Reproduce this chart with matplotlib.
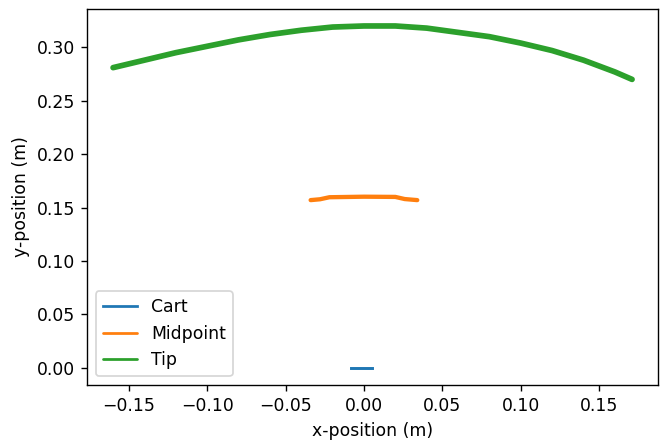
import numpy as np
import matplotlib
matplotlib.use("Agg")
import matplotlib.pyplot as plt

# traced positions (m)
cart_x = [-0.008, -0.004, 0.000, 0.005]
cart_y = [0.000, 0.000, 0.000, 0.000]

mid_x = [-0.034, -0.028, -0.022, 0.000, 0.020, 0.026, 0.034]
mid_y = [0.1570, 0.1578, 0.1597, 0.1602, 0.1600, 0.1580, 0.1570]

tip_x = [-0.160, -0.140, -0.120, -0.100, -0.080, -0.060, -0.040, -0.020, 0.000,
         0.020, 0.040, 0.060, 0.080, 0.100, 0.120, 0.140, 0.160, 0.171]
tip_y = [0.281, 0.288, 0.295, 0.301, 0.307, 0.312, 0.316, 0.319, 0.320,
         0.320, 0.318, 0.314, 0.310, 0.304, 0.297, 0.288, 0.277, 0.270]

DPI = 124
fig, ax = plt.subplots(figsize=(660 / DPI, 444 / DPI), dpi=DPI)
fig.subplots_adjust(left=0.132, right=0.997, top=0.980, bottom=0.133)

ax.plot(cart_x, cart_y, color='#1f77b4', lw=1.7, label="Cart")
ax.plot(mid_x, mid_y, color='#ff7f0e', lw=2.5, label="Midpoint",
        solid_capstyle='round')
ax.plot(tip_x, tip_y, color='#2ca02c', lw=3.3, label="Tip",
        solid_capstyle='round')

ax.set_xlabel("x-position (m)")
ax.set_ylabel("y-position (m)")

leg = ax.legend(loc="lower left")
for line in leg.get_lines():
    line.set_linewidth(1.6)

fig.savefig("out.png", dpi=DPI)
